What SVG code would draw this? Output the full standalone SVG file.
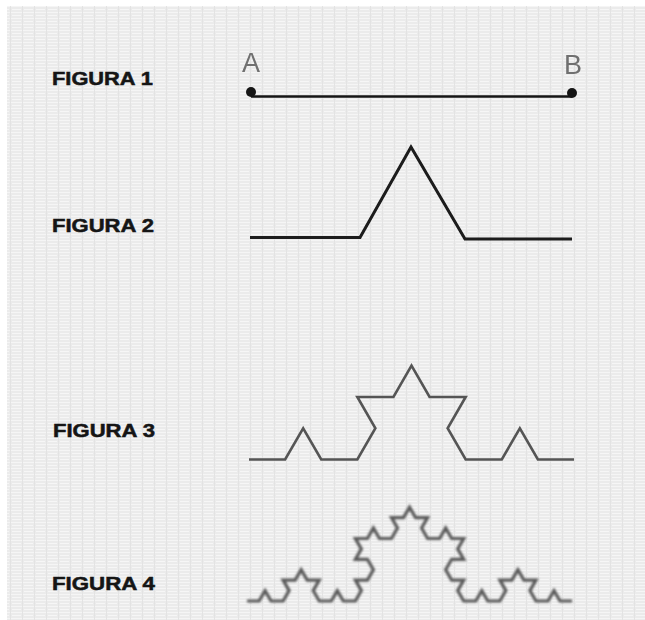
<svg xmlns="http://www.w3.org/2000/svg" width="645" height="620" viewBox="0 0 645 620">
  <defs>
    <!-- faint paper texture: light grey with thin pale streaks -->
    <pattern id="paper" width="12" height="6" patternUnits="userSpaceOnUse">
      <rect width="12" height="6" fill="#ebebeb"/>
      <rect y="0" width="12" height="1" fill="#f5f5f5"/>
      <rect y="3" width="9" height="1" fill="#f6f6f6"/>
      <rect x="10" y="0" width="1" height="6" fill="#e3e3e3"/>
    </pattern>
    <filter id="soft" x="-5%" y="-20%" width="110%" height="140%">
      <feGaussianBlur stdDeviation="0.45"/>
    </filter>
    <filter id="softer" x="-5%" y="-20%" width="110%" height="140%">
      <feGaussianBlur stdDeviation="0.85"/>
    </filter>
    <style>
      .label { font-family: "Liberation Sans", Arial, sans-serif; font-weight: bold; font-size: 18px; fill: #151515; stroke: #151515; stroke-width: 0.5px; }
      .pt { font-family: "Liberation Sans", Arial, sans-serif; font-size: 27px; fill: #707070; text-anchor: middle; }
      .curve { fill: none; stroke-linejoin: miter; stroke-linecap: butt; }
    </style>
  </defs>

  <rect width="645" height="620" fill="#ffffff"/>
  <rect x="7" y="6" width="638" height="614" fill="url(#paper)"/>

  <!-- Figure 1: segment AB -->
  <g id="figura1">
    <text class="label" x="52" y="85" textLength="101" lengthAdjust="spacingAndGlyphs">FIGURA 1</text>
    <text class="pt" x="251" y="72" filter="url(#soft)">A</text>
    <text class="pt" x="573" y="74" filter="url(#soft)">B</text>
    <line x1="251" y1="96.5" x2="572" y2="96.5" stroke="#151515" stroke-width="2.5"/>
    <circle cx="251" cy="92" r="5" fill="#151515"/>
    <circle cx="572" cy="93" r="5" fill="#151515"/>
  </g>

  <!-- Figure 2: Koch curve, first iteration -->
  <g id="figura2">
    <text class="label" x="52" y="232" textLength="102" lengthAdjust="spacingAndGlyphs">FIGURA 2</text>
    <polyline class="curve" points="250,237.5 360,237.5 411,147 465,239 572,239" stroke="#1a1a1a" stroke-width="3" filter="url(#soft)"/>
  </g>

  <!-- Figure 3: Koch curve, second iteration -->
  <g id="figura3">
    <text class="label" x="53" y="437" textLength="102" lengthAdjust="spacingAndGlyphs">FIGURA 3</text>
    <path class="curve" stroke="#555555" stroke-width="2.6" filter="url(#soft)"
      d="M249,459.5 l36.11,0 l18.06,-31.27 l18.06,31.27 l36.11,0 l18.06,-31.27 l-18.06,-31.27 l36.11,0 l18.06,-31.27 l18.06,31.27 l36.11,0 l-18.06,31.27 l18.06,31.27 l36.11,0 l18.06,-31.27 l18.06,31.27 l36.11,0"/>
  </g>

  <!-- Figure 4: Koch curve, third iteration -->
  <g id="figura4">
    <text class="label" x="52" y="590" textLength="103" lengthAdjust="spacingAndGlyphs">FIGURA 4</text>
    <path class="curve" stroke="#5a5a5a" stroke-width="3.2" stroke-linejoin="round" filter="url(#softer)"
      d="M247,601
         l12.04,0 l6.02,-10.42 l6.02,10.42 l12.04,0
         l6.02,-10.42 l-6.02,-10.42 l12.04,0 l6.02,-10.42
         l6.02,10.42 l12.04,0 l-6.02,10.42 l6.02,10.42
         l12.04,0 l6.02,-10.42 l6.02,10.42 l12.04,0
         l6.02,-10.42 l-6.02,-10.42 l12.04,0 l6.02,-10.42
         l-6.02,-10.42 l-12.04,0 l6.02,-10.42 l-6.02,-10.42
         l12.04,0 l6.02,-10.42 l6.02,10.42 l12.04,0
         l6.02,-10.42 l-6.02,-10.42 l12.04,0 l6.02,-10.42
         l6.02,10.42 l12.04,0 l-6.02,10.42 l6.02,10.42
         l12.04,0 l6.02,-10.42 l6.02,10.42 l12.04,0
         l-6.02,10.42 l6.02,10.42 l-12.04,0 l-6.02,10.42
         l6.02,10.42 l12.04,0 l-6.02,10.42 l6.02,10.42
         l12.04,0 l6.02,-10.42 l6.02,10.42 l12.04,0
         l6.02,-10.42 l-6.02,-10.42 l12.04,0 l6.02,-10.42
         l6.02,10.42 l12.04,0 l-6.02,10.42 l6.02,10.42
         l12.04,0 l6.02,-10.42 l6.02,10.42 l12.04,0"/>
  </g>
</svg>
